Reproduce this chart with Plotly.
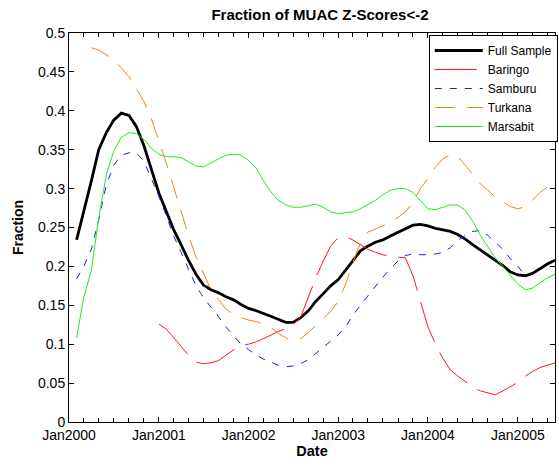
import pandas as pd
import plotly.graph_objects as go

# ---- data (monthly values) ----
full_start = "2000-02-01"
full_sample = [0.234, 0.27, 0.31, 0.35, 0.372, 0.388, 0.397, 0.394, 0.38, 0.355, 0.325,
               0.294, 0.27, 0.248, 0.228, 0.208, 0.19, 0.176, 0.17, 0.166, 0.161, 0.157,
               0.151, 0.146, 0.143, 0.14, 0.136, 0.132, 0.128, 0.128, 0.134, 0.143, 0.155,
               0.165, 0.175, 0.183, 0.195, 0.207, 0.22, 0.226, 0.231, 0.234, 0.239, 0.244,
               0.249, 0.253, 0.254, 0.252, 0.249, 0.247, 0.245, 0.241, 0.235, 0.228, 0.221,
               0.214, 0.207, 0.201, 0.193, 0.189, 0.188, 0.191, 0.197, 0.203, 0.208]

baringo_start = "2001-01-01"
baringo = [0.126, 0.119, 0.109, 0.097, 0.086, 0.077, 0.075, 0.076, 0.079, 0.086, 0.093,
           0.099, 0.1, 0.103, 0.107, 0.112, 0.116, 0.12, 0.125, 0.135, 0.16, 0.185, 0.207,
           0.226, 0.237, 0.238, 0.234, 0.228, 0.222, 0.218, 0.215, 0.213, 0.212, 0.211,
           0.188, 0.155, 0.122, 0.1, 0.082, 0.067, 0.059, 0.052, 0.044, 0.04, 0.037, 0.035,
           0.04, 0.045, 0.051, 0.059, 0.065, 0.07, 0.073, 0.076]

samburu_start = "2000-02-01"
samburu = [0.184, 0.2, 0.222, 0.26, 0.305, 0.33, 0.343, 0.346, 0.346, 0.335, 0.313, 0.29,
           0.264, 0.24, 0.218, 0.196, 0.175, 0.16, 0.148, 0.135, 0.122, 0.111, 0.1, 0.093,
           0.086, 0.081, 0.077, 0.073, 0.071, 0.072, 0.075, 0.08, 0.088, 0.096, 0.104,
           0.112, 0.123, 0.137, 0.15, 0.162, 0.173, 0.186, 0.197, 0.207, 0.214, 0.216,
           0.215, 0.215, 0.216, 0.218, 0.224, 0.233, 0.24, 0.245, 0.246, 0.24, 0.231,
           0.222, 0.21, 0.2, 0.188]

turkana_start = "2000-04-01"
turkana = [0.481, 0.478, 0.472, 0.466, 0.455, 0.444, 0.428, 0.412, 0.39, 0.362, 0.332,
           0.303, 0.27, 0.24, 0.212, 0.192, 0.17, 0.157, 0.145, 0.138, 0.134, 0.131, 0.129,
           0.126, 0.122, 0.114, 0.108, 0.105, 0.107, 0.115, 0.124, 0.133, 0.142, 0.155,
           0.178, 0.205, 0.23, 0.244, 0.248, 0.252, 0.257, 0.263, 0.27, 0.282, 0.3, 0.313,
           0.328, 0.338, 0.344, 0.341, 0.33, 0.318, 0.306, 0.298, 0.289, 0.283, 0.277,
           0.274, 0.277, 0.285, 0.295, 0.302, 0.308]

marsabit_start = "2000-02-01"
marsabit = [0.108, 0.16, 0.195, 0.262, 0.318, 0.348, 0.366, 0.372, 0.371, 0.363, 0.352,
            0.344, 0.341, 0.341, 0.34, 0.335, 0.329, 0.328, 0.333, 0.338, 0.343, 0.344,
            0.343, 0.336, 0.326, 0.311, 0.296, 0.285, 0.279, 0.276, 0.276, 0.278, 0.28,
            0.276, 0.27, 0.268, 0.269, 0.27, 0.274, 0.279, 0.285, 0.292, 0.298, 0.3, 0.3,
            0.295, 0.285, 0.274, 0.273, 0.276, 0.279, 0.279, 0.272, 0.258, 0.24, 0.225,
            0.211, 0.2, 0.188, 0.177, 0.17, 0.172, 0.179, 0.185, 0.19]

series_names = ["Full Sample", "Baringo", "Samburu", "Turkana", "Marsabit"]
x_range = ["2000-01-01", "2005-06-01"]
y_ticks = [0, 0.05, 0.1, 0.15, 0.2, 0.25, 0.3, 0.35, 0.4, 0.45, 0.5]


def dates(start, vals):
    return pd.date_range(start, periods=len(vals), freq="MS")


fig = go.Figure()
specs = [
    (full_sample, full_start, dict(color="black", width=2.8, dash="solid")),
    (baringo, baringo_start, dict(color="#ff1a1a", width=1, dash="42px,12px")),
    (samburu, samburu_start, dict(color="#1a1aff", width=1, dash="7px,8px")),
    (turkana, turkana_start, dict(color="#e8851a", width=1, dash="20px,12px")),
    (marsabit, marsabit_start, dict(color="#1aee1a", width=1, dash="solid")),
]
for name, (vals, start, line) in zip(series_names, specs):
    fig.add_trace(go.Scatter(x=dates(start, vals), y=vals, mode="lines",
                             name=name, line=line))

font_family = "Liberation Sans, Arial, sans-serif"
fig.update_layout(
    width=559, height=466,
    margin=dict(l=69, r=1, t=33, b=44),
    paper_bgcolor="white", plot_bgcolor="white",
    font=dict(family=font_family, size=14, color="black"),
    title=dict(text="<b>Fraction of MUAC Z-Scores<-2</b>", x=320 / 559,
               xanchor="center", y=1 - 15 / 466, yanchor="middle",
               font=dict(size=15)),
    showlegend=True,
    legend=dict(x=(431 - 69) / 489, xanchor="left", y=(422 - 35) / 389, yanchor="top",
                bgcolor="white", bordercolor="black", borderwidth=1,
                font=dict(size=12), tracegroupgap=0, itemwidth=48),
)
fig.update_xaxes(
    type="date", range=x_range, tick0="2000-01-01", dtick="M12", tickformat="%b%Y",
    automargin=False,
    showgrid=False, zeroline=False, showline=True, linecolor="black", linewidth=1,
    mirror="ticks", ticks="inside", ticklen=5, tickcolor="black",
    minor=dict(dtick="M2", ticks="inside", ticklen=4, tickcolor="black", showgrid=False),
    title=dict(text="<b>Date</b>", font=dict(size=14.5), standoff=4),
)
fig.update_yaxes(
    range=[0, 0.5], tickvals=y_ticks, ticktext=[f"{v:g}" for v in y_ticks],
    automargin=False,
    showgrid=False, zeroline=False, showline=True, linecolor="black", linewidth=1,
    mirror="ticks", ticks="inside", ticklen=5, tickcolor="black",
    title=dict(text="<b>Fraction</b>", font=dict(size=14), standoff=11),
)

fig.write_html("out.html", config={"displayModeBar": False},
               post_script="document.body.style.margin='0';")
